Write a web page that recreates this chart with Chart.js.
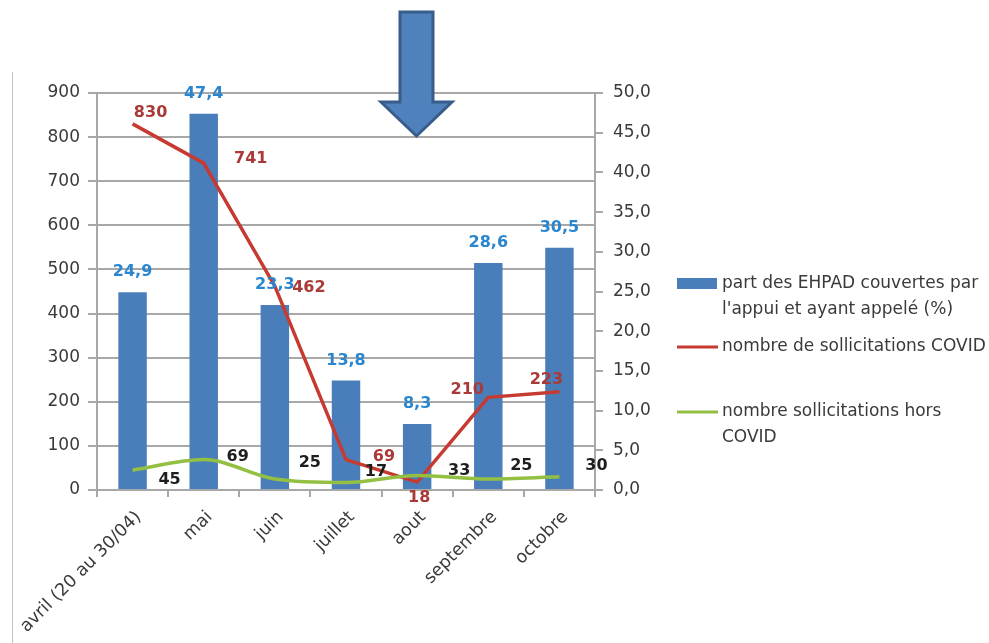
<!DOCTYPE html>
<html>
<head>
<meta charset="utf-8">
<script src="https://cdn.jsdelivr.net/npm/chart.js@4.4.1/dist/chart.umd.min.js"></script>
<style>
  html, body { margin: 0; padding: 0; background: #ffffff; }
  #wrap { position: relative; width: 989px; height: 643px; overflow: hidden; }
  #frameLine { position: absolute; left: 12px; top: 72px; width: 1px; height: 571px; background: #c4c4c4; }
  #arrow { position: absolute; left: 0; top: 0; }
  canvas { position: absolute; left: 0; top: 0; }
</style>
</head>
<body>
<div id="wrap">
  <div id="frameLine"></div>
  <canvas id="chart" width="989" height="643"></canvas>
  <svg id="arrow" width="989" height="150" viewBox="0 0 989 150">
    <polygon points="400,12 433,12 433,102 452,102 416.5,136 381,102 400,102"
             fill="#4f81bd" stroke="#385d8a" stroke-width="3" stroke-linejoin="miter"/>
  </svg>
</div>
<script>
// Months covered by the support line
const categories = ['avril (20 au 30/04)', 'mai', 'juin', 'juillet', 'aout', 'septembre', 'octobre'];

// Share of EHPAD covered by the support and having called (%)
const partEhpad = [24.9, 47.4, 23.3, 13.8, 8.3, 28.6, 30.5];

// Number of COVID-related requests
const sollicitationsCovid = [830, 741, 462, 69, 18, 210, 223];

// Number of non-COVID requests
const sollicitationsHorsCovid = [45, 69, 25, 17, 33, 25, 30];

// Axis tick values
const leftTicks = [0, 100, 200, 300, 400, 500, 600, 700, 800, 900];
const rightTicks = [0, 5, 10, 15, 20, 25, 30, 35, 40, 45, 50];

const seriesNames = [
  "part des EHPAD couvertes par l'appui et ayant appelé (%)",
  'nombre de sollicitations COVID',
  'nombre sollicitations hors COVID'
];

const legendLines = [
  ['part des EHPAD couvertes par', "l'appui et ayant appelé (%)"],
  ['nombre de sollicitations COVID'],
  ['nombre sollicitations hors', 'COVID']
];

const BLUE = '#4a7ebb';
const RED = '#c63a31';
const GREEN = '#93c043';
const GRID = '#a8a8a8';
const TEXT = '#3a3a3a';
const FONT = '"DejaVu Sans", "Open Sans", sans-serif';

const fmtPct = v => v.toFixed(1).replace('.', ',');

// Per-point label placement (pixel offsets from the point)
const labelOffsets = {
  covid: [[18, -11], [47, -4], [34, 2], [38, -3], [2, 16], [-21, -8], [-13, -12]],
  hors: [[37, 10], [34, -3], [35, -16], [30, -11], [42, -5], [33, -13], [37, -11]]
};

const valueLabels = {
  id: 'valueLabels',
  afterDatasetsDraw(chart) {
    const ctx = chart.ctx;
    ctx.save();
    ctx.font = 'bold 16px ' + FONT;
    ctx.textAlign = 'center';
    ctx.textBaseline = 'middle';
    chart.data.datasets.forEach((ds, i) => {
      const meta = chart.getDatasetMeta(i);
      meta.data.forEach((el, j) => {
        const v = ds.data[j];
        if (ds.type === 'bar') {
          ctx.fillStyle = '#2a86cf';
          ctx.fillText(fmtPct(v), el.x, el.y - 20);
        } else {
          const off = labelOffsets[ds.key][j];
          ctx.fillStyle = ds.key === 'covid' ? '#a93a38' : '#1e1e1e';
          ctx.fillText(String(v), el.x + off[0], el.y + off[1]);
        }
      });
    });
    ctx.restore();
  }
};

const sideLegend = {
  id: 'sideLegend',
  afterDraw(chart) {
    const ctx = chart.ctx;
    const x0 = chart.chartArea.right + 82;
    const rows = [284, 347, 412];
    ctx.save();
    ctx.font = '17px ' + FONT;
    ctx.textBaseline = 'middle';
    ctx.textAlign = 'left';
    chart.data.datasets.forEach((ds) => {
      const idx = ds.legendIndex;
      const y = rows[idx];
      if (ds.type === 'bar') {
        ctx.fillStyle = ds.backgroundColor;
        ctx.fillRect(x0, y - 6, 40, 11);
      } else {
        ctx.strokeStyle = ds.borderColor;
        ctx.lineWidth = 3;
        ctx.beginPath();
        ctx.moveTo(x0, y);
        ctx.lineTo(x0 + 41, y);
        ctx.stroke();
      }
      ctx.fillStyle = TEXT;
      legendLines[idx].forEach((line, k) => {
        ctx.fillText(line, x0 + 45, y + k * 26);
      });
    });
    ctx.restore();
  }
};

new Chart(document.getElementById('chart'), {
  data: {
    labels: categories,
    datasets: [
      {
        type: 'line',
        key: 'hors',
        legendIndex: 2,
        label: seriesNames[2],
        data: sollicitationsHorsCovid,
        yAxisID: 'y',
        borderColor: GREEN,
        borderWidth: 3.5,
        pointRadius: 0,
        tension: 0.4,
        cubicInterpolationMode: 'monotone',
        order: 1
      },
      {
        type: 'line',
        key: 'covid',
        legendIndex: 1,
        label: seriesNames[1],
        data: sollicitationsCovid,
        yAxisID: 'y',
        borderColor: RED,
        borderWidth: 3.5,
        pointRadius: 0,
        tension: 0,
        order: 2
      },
      {
        type: 'bar',
        key: 'part',
        legendIndex: 0,
        label: seriesNames[0],
        data: partEhpad,
        yAxisID: 'y2',
        backgroundColor: BLUE,
        barPercentage: 0.4,
        categoryPercentage: 1,
        order: 3
      }
    ]
  },
  options: {
    responsive: false,
    animation: false,
    layout: { padding: { top: 93, right: 324, bottom: 0, left: 0 } },
    plugins: { legend: { display: false }, tooltip: { enabled: false } },
    scales: {
      x: {
        offset: true,
        grid: { offset: true, drawOnChartArea: false, drawTicks: true, tickLength: 7, color: GRID, lineWidth: 2 },
        border: { color: GRID, width: 2 },
        ticks: { color: TEXT, font: { family: FONT, size: 17.5 }, minRotation: 45, maxRotation: 45, padding: 10, labelOffset: 6 },
        afterFit(scale) { scale.height = 153; }
      },
      y: {
        position: 'left',
        min: 0,
        max: 900,
        afterBuildTicks(scale) { scale.ticks = leftTicks.map(v => ({ value: v })); },
        grid: { color: GRID, lineWidth: 2, drawTicks: true, tickLength: 9 },
        border: { color: GRID, width: 2 },
        ticks: { color: TEXT, font: { family: FONT, size: 17 }, padding: 8 },
        afterFit(scale) { scale.width = 97; }
      },
      y2: {
        position: 'right',
        min: 0,
        max: 50,
        afterBuildTicks(scale) { scale.ticks = rightTicks.map(v => ({ value: v })); },
        grid: { drawOnChartArea: false, drawTicks: true, tickLength: 8, color: GRID, lineWidth: 2 },
        border: { color: GRID, width: 2 },
        ticks: { color: TEXT, font: { family: FONT, size: 17 }, padding: 10, callback: v => fmtPct(v) },
        afterFit(scale) { scale.width = 70; }
      }
    }
  },
  plugins: [valueLabels, sideLegend]
});
</script>
</body>
</html>
